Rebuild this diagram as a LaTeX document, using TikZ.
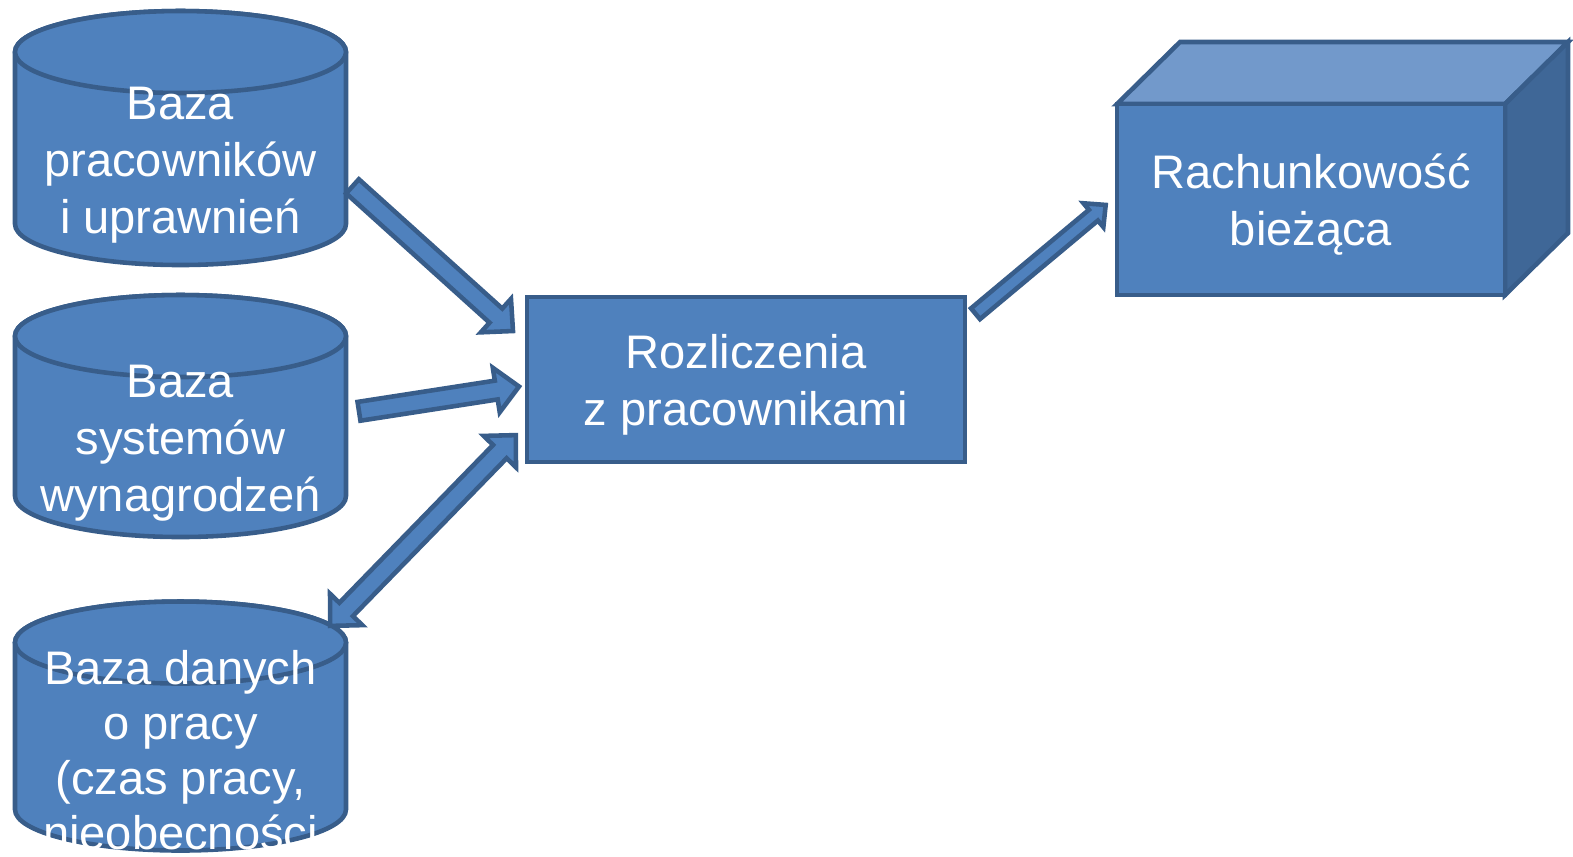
\documentclass[tikz,border=0pt]{standalone}
\usepackage{fontspec}
\setmainfont{Liberation Sans}
\usepackage{tikz}
\usetikzlibrary{calc, backgrounds}
\definecolor{niebieski}{HTML}{4F81BD}
\definecolor{ramka}{HTML}{385D8A}
\definecolor{jasny}{HTML}{7299CB}
\definecolor{ciemny}{HTML}{3F6797}
\tikzset{
  outline/.style={draw=ramka, fill=niebieski, line width=1.3pt, line join=miter},
  label/.style={text=white, font={\fontsize{13.4}{16.2}\selectfont}, align=center, inner sep=0pt, outer sep=0pt},
  database/.style n args={2}{
    label, minimum width=3.31cm, append after command={
      \pgfextra{
        \begin{pgfonlayer}{background}
        \draw[outline] (\tikzlastnode.center) ++(-1.655,#1) -- ++(0,-#2)
              arc[start angle=180, end angle=360, x radius=1.655, y radius=0.41]
              -- ++(0,#2) arc[start angle=0, end angle=180, x radius=1.655, y radius=0.41] -- cycle; % walec
        \draw[outline] (\tikzlastnode.center) ++(0,#1) ellipse[x radius=1.655, y radius=0.41]; % gorna podstawa
        \end{pgfonlayer}
      }
    }
  },
  process/.style={outline, label, minimum width=4.38cm, minimum height=1.65cm, text depth=0pt},
  cube/.style={outline, label, minimum width=3.88cm, minimum height=1.91cm, text depth=-1.4pt,
    append after command={
      \pgfextra{
        \draw[outline, fill=jasny] (\tikzlastnode.north west) -- ++(0.63,0.62) -- ++(3.88,0) -- (\tikzlastnode.north east) -- cycle; % gora
        \draw[outline, fill=ciemny] (\tikzlastnode.north east) -- ++(0.63,0.62) -- ++(0,-1.91) -- (\tikzlastnode.south east) -- cycle; % bok
      }
    }
  },
  arrow/.style args={#1/#2/#3}{outline, to path={
      ($(\tikztostart)!#1!90:(\tikztotarget)$)
      -- ($($(\tikztotarget)!#3!(\tikztostart)$)!#1!90:(\tikztotarget)$)
      -- ($($(\tikztotarget)!#3!(\tikztostart)$)!#2!90:(\tikztotarget)$)
      -- (\tikztotarget)
      -- ($($(\tikztotarget)!#3!(\tikztostart)$)!#2!-90:(\tikztotarget)$)
      -- ($($(\tikztotarget)!#3!(\tikztostart)$)!#1!-90:(\tikztotarget)$)
      -- ($(\tikztostart)!#1!-90:(\tikztotarget)$) -- cycle
  }},
  dblarrow/.style args={#1/#2/#3}{outline, to path={
      ($($(\tikztostart)!#3!(\tikztotarget)$)!#1!90:(\tikztotarget)$)
      -- ($($(\tikztotarget)!#3!(\tikztostart)$)!#1!90:(\tikztotarget)$)
      -- ($($(\tikztotarget)!#3!(\tikztostart)$)!#2!90:(\tikztotarget)$)
      -- (\tikztotarget)
      -- ($($(\tikztotarget)!#3!(\tikztostart)$)!#2!-90:(\tikztotarget)$)
      -- ($($(\tikztotarget)!#3!(\tikztostart)$)!#1!-90:(\tikztotarget)$)
      -- ($($(\tikztostart)!#3!(\tikztotarget)$)!#1!-90:(\tikztotarget)$)
      -- ($($(\tikztostart)!#3!(\tikztotarget)$)!#2!-90:(\tikztotarget)$)
      -- (\tikztostart)
      -- ($($(\tikztostart)!#3!(\tikztotarget)$)!#2!90:(\tikztotarget)$) -- cycle
  }}
}

\begin{document}
\begin{tikzpicture}
\useasboundingbox (0,0) rectangle (15.73,-8.56);

% Nodes
\node (db1) [database={1.13}{1.72}] at (1.805,-1.65) {Baza\\pracowników\\i uprawnień};
\node (db2) [database={1.07}{1.60}] at (1.805,-4.43) {Baza\\systemów\\wynagrodzeń};
\node (db3) [database={1.075}{1.67}, font={\fontsize{13.4}{15.6}\selectfont}] at (1.805,-7.50) {Baza danych\\o pracy\\(czas pracy,\\nieobecności};
\node (rozl) [process] at (7.46,-3.795) {Rozliczenia\\z pracownikami};
\node (rach) [cube] at (13.11,-1.995) {Rachunkowość\\bieżąca};

% Arrows
\draw [arrow=0.095cm/0.225cm/0.23cm] ([xshift=0.065cm,yshift=-0.213cm]db1.east) to ([xshift=-0.14cm,yshift=-0.34cm]rozl.north west);
\draw [arrow=0.095cm/0.225cm/0.23cm] ([xshift=0.13cm,yshift=0.317cm]db2.east) to ([xshift=-0.08cm,yshift=-0.07cm]rozl.west);
\draw [dblarrow=0.095cm/0.225cm/0.23cm] ([xshift=-0.159cm,yshift=1.241cm]db3.east) to ([xshift=-0.111cm,yshift=0.269cm]rozl.south west);
\draw [arrow=0.07cm/0.155cm/0.16cm] ([xshift=0.105cm,yshift=-0.167cm]rozl.north east) to ([xshift=-0.113cm,yshift=-0.054cm]rach.west);
\end{tikzpicture}
\end{document}
